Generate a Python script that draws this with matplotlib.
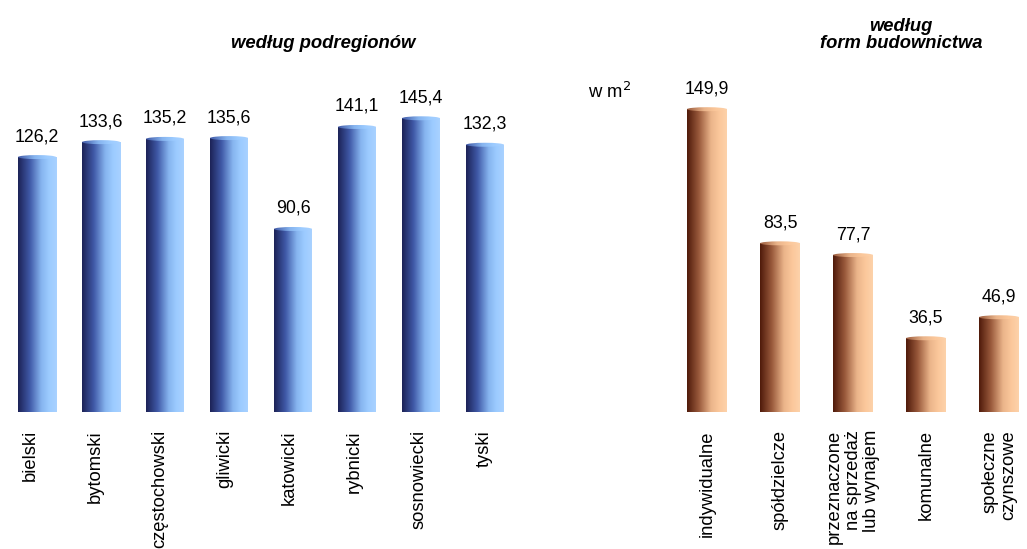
import numpy as np
import matplotlib
matplotlib.use("Agg")
import matplotlib.pyplot as plt
import matplotlib.transforms as mtransforms
from matplotlib.colors import LinearSegmentedColormap
from matplotlib.patches import Ellipse

plt.rcParams['font.family'] = ['Liberation Sans', 'DejaVu Sans']

regions = ['bielski', 'bytomski', 'częstochowski', 'gliwicki', 'katowicki',
           'rybnicki', 'sosnowiecki', 'tyski']
region_values = [126.2, 133.6, 135.2, 135.6, 90.6, 141.1, 145.4, 132.3]

forms = ['indywidualne', 'spółdzielcze', 'przeznaczone\nna sprzedaż\nlub wynajem',
         'komunalne', 'społeczne\nczynszowe']
form_values = [149.9, 83.5, 77.7, 36.5, 46.9]

W, H = 1027, 549
fig = plt.figure(figsize=(W / 100, H / 100), dpi=100)

blue_cmap = LinearSegmentedColormap.from_list(
    'blue', [(0, '#1c2256'), (0.3, '#3f58a6'), (0.6, '#86b4ef'), (0.8, '#9ccbff'), (1, '#a9d2ff')])
brown_cmap = LinearSegmentedColormap.from_list(
    'brown', [(0, '#4f1a0a'), (0.3, '#9a5a3c'), (0.6, '#eab48a'), (0.8, '#fbc79a'), (1, '#fdd2aa')])

y_bottom_px = 412
px_per_unit = 2.02
ymax = 165
ax_h = ymax * px_per_unit


def make_axes(left_px, width_px):
    return fig.add_axes([left_px / W, 1 - y_bottom_px / H, width_px / W, ax_h / H])


def draw(ax, cats, vals, cmap, width, xlim, cap_h, label_shift=None):
    x = np.arange(len(cats))
    bars = ax.bar(x, vals, width=width, color='none', edgecolor='none')
    grad = np.linspace(0, 1, 256).reshape(1, -1)
    for b, v in zip(bars, vals):
        x0, w, h = b.get_x(), b.get_width(), b.get_height()
        im = ax.imshow(grad, cmap=cmap, extent=(x0, x0 + w, 0, h), aspect='auto',
                       interpolation='bilinear', zorder=2)
        im.set_clip_path(b)
        cap = Ellipse((x0 + w / 2, h), w, cap_h, facecolor='none', edgecolor='none')
        ax.add_patch(cap)
        im2 = ax.imshow(grad * 0.7 + 0.3, cmap=cmap, extent=(x0, x0 + w, h - cap_h, h + cap_h),
                        aspect='auto', interpolation='bilinear', zorder=3, vmin=0, vmax=1)
        im2.set_clip_path(cap)
        bot = Ellipse((x0 + w / 2, 0), w, cap_h, facecolor='none', edgecolor='none')
        ax.add_patch(bot)
        im3 = ax.imshow(grad, cmap=cmap, extent=(x0, x0 + w, -cap_h, cap_h),
                        aspect='auto', interpolation='bilinear', zorder=2)
        im3.set_clip_path(bot)
        ax.text(x0 + w / 2, h + 12 / px_per_unit, f'{v:.1f}'.replace('.', ','),
                ha='center', va='bottom', fontsize=12.8, color='#000000')
    ax.set_xlim(*xlim)
    ax.set_ylim(0, ymax)
    ax.set_xticks(x)
    ax.set_xticklabels(cats, rotation=90, ha='center', va='top', fontsize=13.2,
                       multialignment='right', linespacing=1.15)
    ax.tick_params(axis='x', length=0, pad=13)
    if label_shift is not None:
        for i, lab in enumerate(ax.get_xticklabels()):
            dx = label_shift(i)
            lab.set_transform(lab.get_transform() +
                              mtransforms.ScaledTranslation(dx / 100, 0, fig.dpi_scale_trans))
    ax.set_yticks([])
    for s in ax.spines.values():
        s.set_visible(False)
    ax.patch.set_alpha(0)


ax1 = make_axes(5, 512)
draw(ax1, regions, region_values, blue_cmap, 38 / 64, (-0.5, 7.5), 4 / px_per_unit,
     label_shift=lambda i: -6.5 + 0.8 * i)

ax2 = make_axes(670.5, W - 670.5)
draw(ax2, forms, form_values, brown_cmap, 40 / 73, (-0.5, -0.5 + (W - 670.5) / 73), 4 / px_per_unit)

fig.text(323 / W, 1 - 44 / H, 'według podregionów', ha='center', va='center',
         fontsize=13.3, fontweight='bold', fontstyle='italic')
fig.text(901 / W, 1 - 35 / H, 'według\nform budownictwa', ha='center', va='center',
         fontsize=13.2, fontweight='bold', fontstyle='italic', linespacing=1.05)
fig.text(588 / W, 1 - 92 / H, 'w m$^2$', ha='left', va='center', fontsize=13.3)

fig.savefig('out.png', dpi=100)
